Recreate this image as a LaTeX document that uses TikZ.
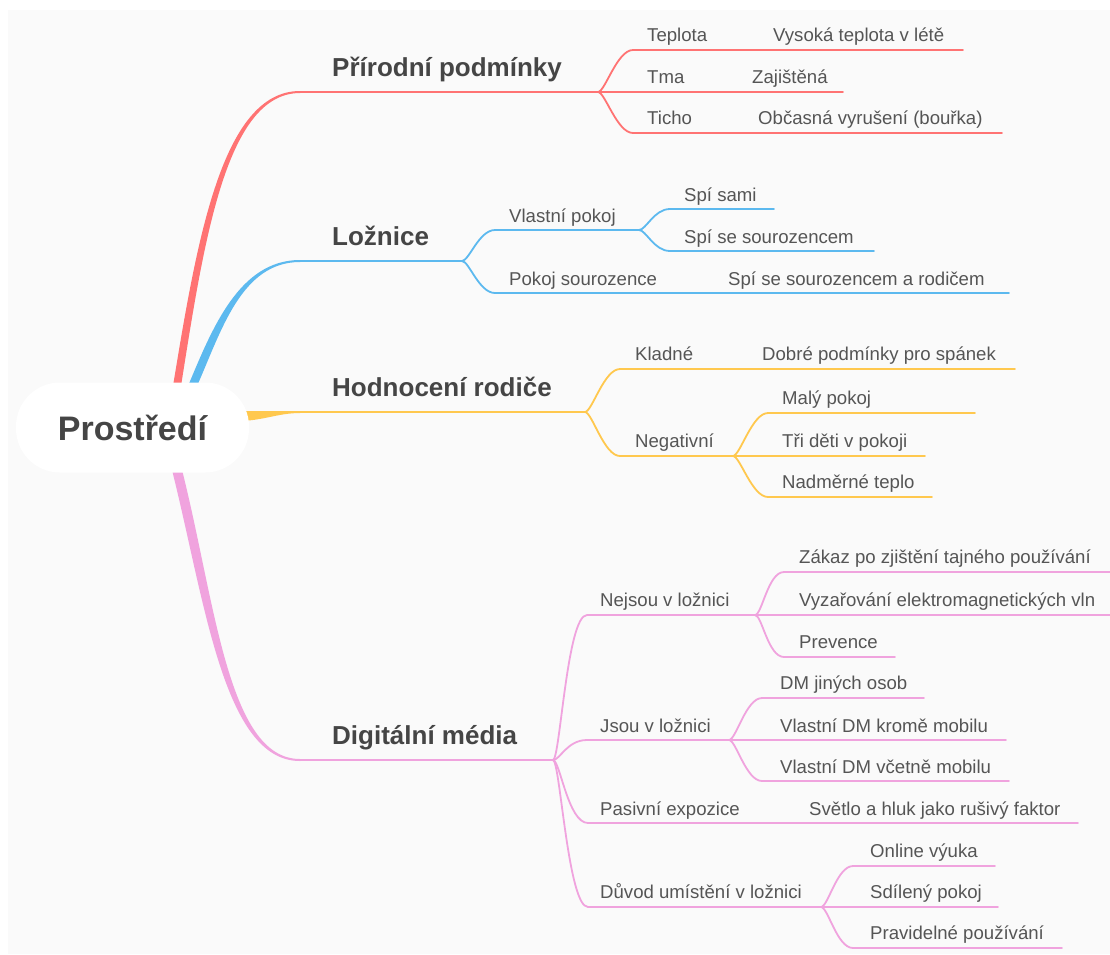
\documentclass[tikz,border=0pt]{standalone}
\usepackage{fontspec}
\setmainfont{Liberation Sans}
\definecolor{cr}{HTML}{FF7373}
\definecolor{cb}{HTML}{5CB9EF}
\definecolor{cy}{HTML}{FFC84E}
\definecolor{cp}{HTML}{F0A3DE}
\definecolor{tx}{HTML}{555555}
\definecolor{txd}{HTML}{454545}
\definecolor{bgc}{HTML}{FAFAFA}
\newcommand\subf{\fontsize{18.6}{22}\selectfont}
\newcommand\mainf{\fontsize{26}{30}\selectfont\bfseries}
\newcommand\rootf{\fontsize{34}{40}\selectfont\bfseries}
% fork curve: style, from, to, end control offset
\newcommand\fk[4]{\draw[#1] (#2) .. controls ([xshift=7pt]#2) and ([xshift=-#4]#3) .. (#3)}
\begin{document}
\begin{tikzpicture}[x=1pt,y=-1pt,
  sub/.style={font=\subf, text=tx, inner sep=0pt, anchor=base west},
  mainlbl/.style={font=\mainf, text=txd, inner sep=0pt, anchor=base west},
  lr/.style={draw=cr, line width=1.8pt, line cap=round},
  lb/.style={draw=cb, line width=1.8pt, line cap=round},
  ly/.style={draw=cy, line width=1.8pt, line cap=round},
  lp/.style={draw=cp, line width=1.8pt, line cap=round}]
\useasboundingbox (0,0) rectangle (1110,954);
\fill[white] (0,0) rectangle (1110,954);
\fill[bgc] (8,10) rectangle (1110,954);

% ---------- coordinates ----------
\coordinate (rm) at (300,92);   \coordinate (R) at (598,92);
\coordinate (bm) at (300,261);  \coordinate (B1) at (462,261);
\coordinate (ym) at (300,412);  \coordinate (Y1) at (585,412);
\coordinate (pm) at (300,760);  \coordinate (P) at (553,760);

% ---------- main tapered branches ----------
\fill[cr] (173,386) .. controls (197,240) and (222,91) .. (300,91) -- (rm) -- (300,93)
  .. controls (226,93) and (204,241) .. (181,386) -- cycle;
\fill[cb] (188,386) .. controls (212,329) and (239,260) .. (300,260) -- (bm) -- (300,262)
  .. controls (241,262) and (221,332) .. (197,386) -- cycle;
\fill[cy] (238,411) .. controls (262,411) and (280,411) .. (300,411) -- (ym) -- (300,413)
  .. controls (278,413) and (262,421) .. (238,421) -- cycle;
\fill[cp] (171,466) .. controls (205,600) and (223,761) .. (300,761) -- (pm) -- (300,759)
  .. controls (227,759) and (215,598) .. (181,466) -- cycle;

\draw[lr, line width=2.2pt] (rm) -- (R);
\draw[lb, line width=2.2pt] (bm) -- (B1);
\draw[ly, line width=2.2pt] (ym) -- (Y1);
\draw[lp, line width=2.2pt] (pm) -- (P);

% ---------- root ----------
\node[fill=white, rounded corners=44pt, minimum width=233pt, minimum height=90pt,
      inner sep=0pt, font=\rootf, text=txd] (root) at (132.5,427.5) {Prostředí};

% ---------- main labels ----------
\node[mainlbl] (l1) at (332,76) {Přírodní podmínky};
\node[mainlbl] (l2) at (332,245) {Ložnice};
\node[mainlbl] (l3) at (332,396) {Hodnocení rodiče};
\node[mainlbl] (l4) at (332,744) {Digitální média};

% ---------- red ----------
\coordinate (t1) at (633,50);  \coordinate (t1e) at (963,50);
\coordinate (t2e) at (843,92);
\coordinate (t3) at (633,133); \coordinate (t3e) at (1002,133);
\fk{lr}{R}{t1}{16pt} -- (t1e);
\draw[lr] (R) -- (t2e);
\fk{lr}{R}{t3}{16pt} -- (t3e);
\node[sub] (n11) at (647,41) {Teplota};
\node[sub] (n111) at (773,41) {Vysoká teplota v létě};
\node[sub] (n12) at (647,83) {Tma};
\node[sub] (n121) at (752,83) {Zajištěná};
\node[sub] (n13) at (647,124) {Ticho};
\node[sub] (n131) at (758,124) {Občasná vyrušení (bouřka)};

% ---------- blue ----------
\coordinate (b1) at (495,230);  \coordinate (B2) at (639,230);
\coordinate (b11) at (670,209); \coordinate (b11e) at (774,209);
\coordinate (b12) at (670,251); \coordinate (b12e) at (874,251);
\coordinate (b2) at (495,293);  \coordinate (b2e) at (1009,293);
\fk{lb}{B1}{b1}{16pt} -- (B2);
\fk{lb}{B2}{b11}{16pt} -- (b11e);
\fk{lb}{B2}{b12}{16pt} -- (b12e);
\fk{lb}{B1}{b2}{16pt} -- (b2e);
\node[sub] (n21) at (509,222) {Vlastní pokoj};
\node[sub] (n211) at (684,201) {Spí sami};
\node[sub] (n212) at (684,243) {Spí se sourozencem};
\node[sub] (n22) at (509,285) {Pokoj sourozence};
\node[sub] (n221) at (728,285) {Spí se sourozencem a rodičem};

% ---------- yellow ----------
\coordinate (y1) at (620,369);  \coordinate (y1e) at (1015,369);
\coordinate (y2) at (620,456);  \coordinate (Y2) at (733,456);
\coordinate (y21) at (768,413); \coordinate (y21e) at (975,413);
\coordinate (y22e) at (925,456);
\coordinate (y23) at (768,497); \coordinate (y23e) at (932,497);
\fk{ly}{Y1}{y1}{16pt} -- (y1e);
\fk{ly}{Y1}{y2}{16pt} -- (Y2);
\fk{ly}{Y2}{y21}{16pt} -- (y21e);
\draw[ly] (Y2) -- (y22e);
\fk{ly}{Y2}{y23}{16pt} -- (y23e);
\node[sub] (n31) at (635,360) {Kladné};
\node[sub] (n311) at (762,360) {Dobré podmínky pro spánek};
\node[sub] (n32) at (635,447) {Negativní};
\node[sub] (n321) at (782,404) {Malý pokoj};
\node[sub] (n322) at (782,447) {Tři děti v pokoji};
\node[sub] (n323) at (782,488) {Nadměrné teplo};

% ---------- pink ----------
\coordinate (p1) at (587,615);  \coordinate (P2) at (755,615);
\coordinate (p11) at (784,572); \coordinate (p11e) at (1112,572);
\coordinate (p12e) at (1112,615);
\coordinate (p13) at (784,657); \coordinate (p13e) at (895,657);
\coordinate (p2) at (587,740);  \coordinate (P3) at (729,740);
\coordinate (p21) at (762,698); \coordinate (p21e) at (924,698);
\coordinate (p22e) at (1006,740);
\coordinate (p23) at (762,781); \coordinate (p23e) at (1009,781);
\coordinate (p3) at (588,823);  \coordinate (p3e) at (1078,823);
\coordinate (p4) at (588,907);  \coordinate (P4) at (821,907);
\coordinate (p41) at (853,866); \coordinate (p41e) at (995,866);
\coordinate (p42e) at (998,907);
\coordinate (p43) at (853,948); \coordinate (p43e) at (1062,948);
\fk{lp}{P}{p1}{20pt} -- (P2);
\fk{lp}{P2}{p11}{16pt} -- (p11e);
\draw[lp] (P2) -- (p12e);
\fk{lp}{P2}{p13}{16pt} -- (p13e);
\fk{lp}{P}{p2}{20pt} -- (P3);
\fk{lp}{P3}{p21}{16pt} -- (p21e);
\draw[lp] (P3) -- (p22e);
\fk{lp}{P3}{p23}{16pt} -- (p23e);
\fk{lp}{P}{p3}{20pt} -- (p3e);
\fk{lp}{P}{p4}{20pt} -- (P4);
\fk{lp}{P4}{p41}{16pt} -- (p41e);
\draw[lp] (P4) -- (p42e);
\fk{lp}{P4}{p43}{16pt} -- (p43e);
\node[sub] (n41) at (600,606) {Nejsou v ložnici};
\node[sub] (n411) at (799,563) {Zákaz po zjištění tajného používání};
\node[sub] (n412) at (799,606) {Vyzařování elektromagnetických vln};
\node[sub] (n413) at (799,648) {Prevence};
\node[sub] (n42) at (600,732) {Jsou v ložnici};
\node[sub] (n421) at (780,689) {DM jiných osob};
\node[sub] (n422) at (780,732) {Vlastní DM kromě mobilu};
\node[sub] (n423) at (780,773) {Vlastní DM včetně mobilu};
\node[sub] (n43) at (600,815) {Pasivní expozice};
\node[sub] (n431) at (809,815) {Světlo a hluk jako rušivý faktor};
\node[sub] (n44) at (600,898) {Důvod umístění v ložnici};
\node[sub] (n441) at (870,857) {Online výuka};
\node[sub] (n442) at (870,898) {Sdílený pokoj};
\node[sub] (n443) at (870,939) {Pravidelné používání};
\end{tikzpicture}
\end{document}
